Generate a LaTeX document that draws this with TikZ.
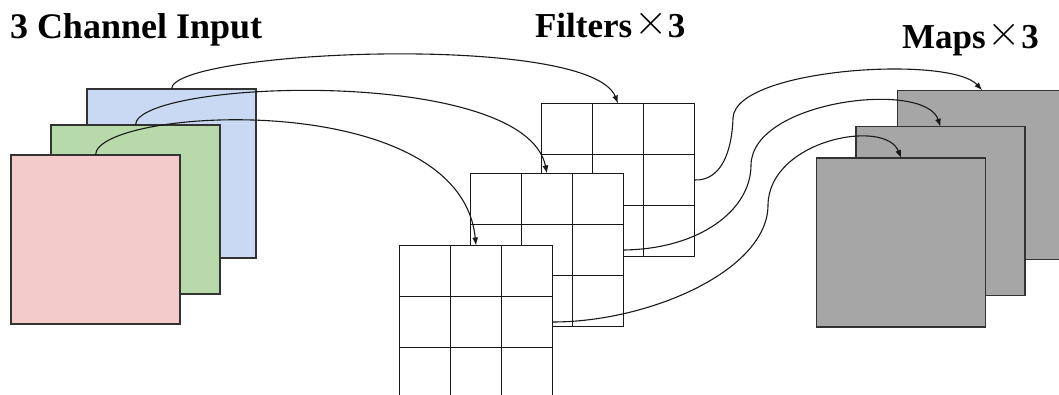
\documentclass[tikz,border=0pt]{standalone}
\usepackage{fontspec}
\usepackage{graphicx}
\setmainfont{Liberation Serif}
\usetikzlibrary{arrows.meta,calc}
\definecolor{inblue}{HTML}{C9D9F3}
\definecolor{ingreen}{HTML}{B8D9AA}
\definecolor{inred}{HTML}{F3CBCB}
\definecolor{mapgray}{HTML}{A6A6A6}
\definecolor{edge}{HTML}{333333}
\newcommand{\crossmark}{\raisebox{3pt}{\scalebox{1.72}{$\times$}}}
\begin{document}
\begin{tikzpicture}[x=1pt,y=-1pt,
  insq/.style={draw=edge, line width=1.2pt, minimum size=169pt, inner sep=0pt, outer sep=0pt, anchor=north west},
  mapsq/.style={insq, fill=mapgray},
  gridbox/.style={draw=black!90, fill=white, line width=1.5pt, minimum size=153pt, inner sep=0pt, outer sep=0pt, anchor=north west,
    path picture={
      \foreach \t in {1,2}{
        \draw[black!90, line width=1.5pt]
          ($(path picture bounding box.north west)!\t/3!(path picture bounding box.north east)$) --
          ($(path picture bounding box.south west)!\t/3!(path picture bounding box.south east)$);
        \draw[black!90, line width=1.5pt]
          ($(path picture bounding box.north west)!\t/3!(path picture bounding box.south west)$) --
          ($(path picture bounding box.north east)!\t/3!(path picture bounding box.south east)$);
      }}},
  conn/.style={draw=black!90, line width=1.1pt, -{Latex[length=8pt,width=6pt]}},
  title/.style={inner sep=0pt, outer sep=0pt, anchor=base west, font=\fontsize{35}{40}\selectfont\bfseries}]
\useasboundingbox (0,0) rectangle (1059,394);

% titles
\node[title, font=\fontsize{36}{40}\selectfont\bfseries] (t1) at (10,38) {3 Channel Input};
\node[title] (t2) at (535,37) {Filters\hspace{2pt}\crossmark\hspace{0.5pt}3};
\node[title] (t3) at (902,48) {Maps\hspace{2pt}\crossmark\hspace{0.5pt}3};

% input channels
\node[insq, fill=inblue] (blue) at (87,89) {};
\node[insq, fill=ingreen] (green) at (51,125) {};
\node[insq, fill=inred] (red) at (11,155) {};

% filters
\node[gridbox] (g3) at (541.5,103.5) {};
\node[gridbox] (g2) at (470.5,173.5) {};
\node[gridbox] (g1) at (399.5,245.5) {};

% maps
\node[mapsq] (m3) at (897.7,90.3) {};
\node[mapsq] (m2) at (856,126.7) {};
\node[mapsq] (m1) at (816.7,158) {};

% input -> filters
\draw[conn] (blue.north) .. controls (172,50) and (590,32) .. (g3.north);
\draw[conn] (green.north) .. controls (136,80) and (525,65) .. (g2.north);
\draw[conn] (red.north) .. controls (96,108) and (460,85) .. (g1.north);

% filters -> maps
\coordinate (w3) at (733,118);
\coordinate (w2) at (751,165);
\coordinate (w1) at (768,205);
\draw[conn] (g3.east) .. controls (722,181) and (732,150) .. (w3) .. controls (735,68) and (950,55) .. (m3.north);
\draw[conn] (g2.east) .. controls (700,249) and (751,210) .. (w2) .. controls (752,100) and (925,80) .. (m2.north);
\draw[conn] (g1.east) .. controls (650,322) and (768,270) .. (w1) .. controls (769,140) and (885,118) .. (m1.north);
\end{tikzpicture}
\end{document}
